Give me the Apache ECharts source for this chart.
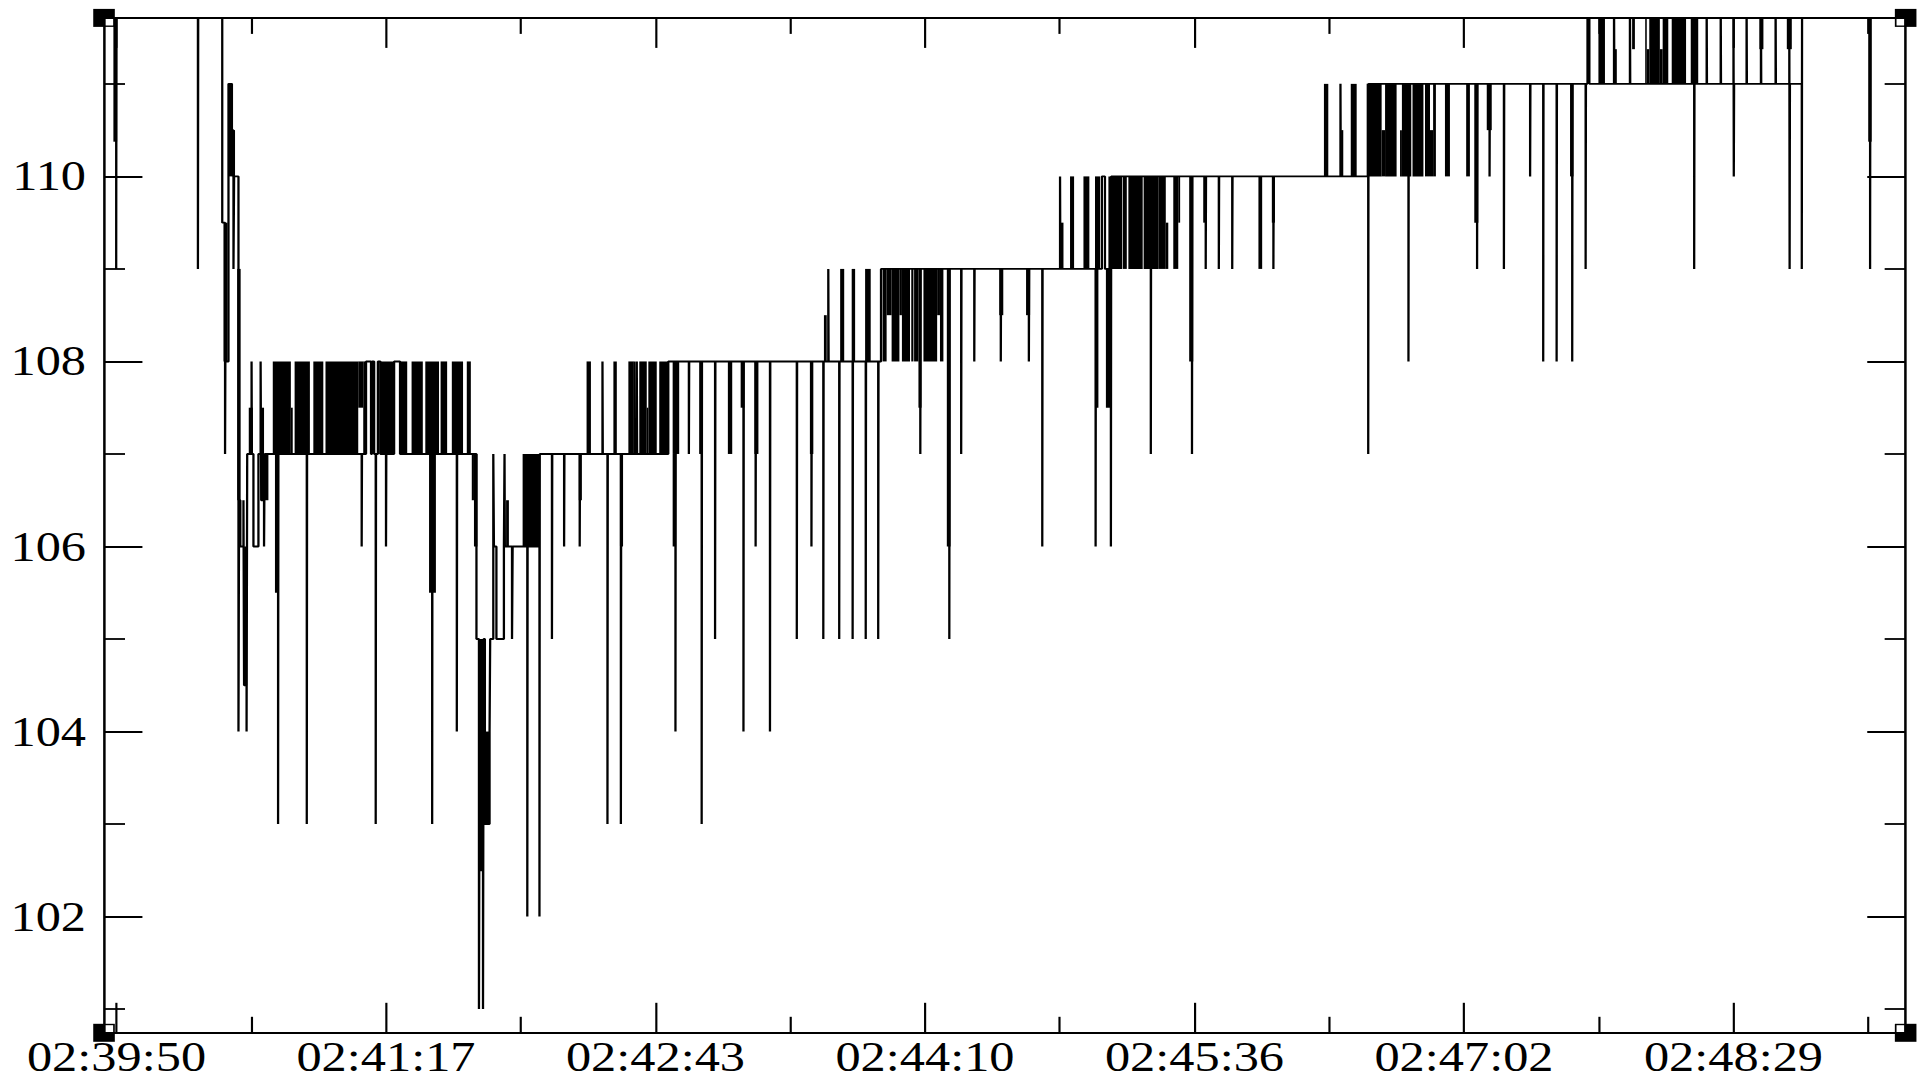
<!DOCTYPE html>
<html>
<head>
<meta charset="utf-8">
<script src="https://cdn.jsdelivr.net/npm/echarts@6/dist/echarts.min.js"></script>
<style>
  html, body { margin: 0; padding: 0; background: #fff; overflow: hidden; }
  /* the plot is laid out on a narrower page and widened, like the original graph export */
  #chart { width: 1606px; height: 1080px; transform: scaleX(1.19988); transform-origin: 0 0; }
</style>
</head>
<body>
<div id="chart"></div>
<script>
// ---- time axis: seconds after 02:39:00 ----
const tickLabels = ['02:39:50', '02:41:17', '02:42:43', '02:44:10', '02:45:36', '02:47:02', '02:48:29'];
const majorTimeTicks = [50.4, 136.8, 223.2, 309.6, 396.0, 482.4, 568.8];
const minorTimeTicks = [93.6, 180.0, 266.4, 352.8, 439.2, 525.6, 612.0];
const majorPriceTicks = [102, 104, 106, 108, 110];
const minorPriceTicks = [101, 103, 105, 107, 109, 111];

// ---- trade prices [seconds, price], held until the next trade ----
const pathOpening = [[46.4,112],[50.3,109],[50.4,112],[76.5,109],[76.6,112],[84.3,109.5],[85.2,107],[85.3,108],[86.3,111],[87.4,110.5],[87.9,109],[88.1,110],[89.5,104],[89.7,106.5],[90.1,106],[91.1,106.5],[91.3,104.5],[92.1,104],[92.3,107],[93.7,108],[93.8,107],[94.3,106],[95.9,107],[96.6,108],[96.8,106.5],[97.7,106],[97.9,107]];
const pathAt107 = [[102.2,103],[102.3,107],[111.4,103],[111.5,107],[129.0,106],[129.1,107],[130.4,108],[132.0,107],[132.3,108],[133.0,107],[133.5,103],[133.6,107],[134.2,108],[135.0,107],[136.8,106],[136.9,107],[139.4,108],[141.3,107],[151.6,103],[151.7,107],[159.5,104],[159.6,107]];
const pathDip = [[165.8,105],[166.6,101],[166.7,102.5],[167.9,101],[168.1,105],[168.5,103],[170.0,104],[170.2,105],[171.2,107],[171.4,106],[172.2,105],[174.6,106],[174.8,107],[174.9,106],[177.2,105],[177.4,106],[182.1,102],[182.2,106],[186.0,102],[186.1,107]];
const pathRecovery = [[190.0,105],[190.1,107],[193.9,106],[194.0,107],[198.9,106],[199.0,107],[206.2,108],[206.3,107],[207.8,103],[207.9,107],[212.1,103],[212.2,107],[216.4,108],[216.5,107],[217.2,108],[217.3,107],[227.3,108],[229.6,104],[229.7,108],
  [233.9,107],[234.0,108],[238.0,103],[238.1,108],[242.3,105],[242.4,108],[251.4,104],[251.5,108],[255.3,106],[255.4,108],[259.9,104],[260.0,108],[268.5,105],[268.6,108],[273.2,106],[273.3,108],[277.0,105],[277.1,108],[278.6,109],[278.7,108],[282.1,105],[282.2,108],[286.4,105],[286.5,108],[290.6,105],[290.7,108],[294.6,105],[294.7,108],[295.5,109]];
const pathClimb = [[308.1,107],[308.2,109],[317.4,105],[317.5,109],[321.2,107],[321.3,109],[325.4,108],[325.5,109],[333.9,108],[334.0,109],[342.9,108],[343.0,109],[347.2,106],[347.3,109],[352.9,110],[353.0,109],[364.3,106],[364.4,109],[366.3,110],[367.3,109],[369.2,106],[369.3,110],
  [382.0,107],[382.1,110],[395.2,107],[395.3,110],[399.6,109],[399.7,110],[403.8,109],[403.9,110],[408.1,109],[408.2,110],[421.3,109],[421.4,110],[442.8,111],[442.9,110],[451.7,107],[451.8,111]];
const pathTop = [[464.6,108],[464.7,111],[486.6,109],[486.7,111],[490.6,110],[490.7,111],[495.2,109],[495.3,111],[503.6,110],[503.7,111],[507.8,108],[507.9,111],[512.1,108],[512.2,111],[517.1,108],[517.2,111],[521.4,109],[521.5,111],[522.0,112],[522.6,111],[530.5,112],[530.6,111],[535.6,112],[535.7,111],[556.2,109],[556.3,111],[560.2,112],[560.3,111],[564.7,112],[564.8,111],[568.8,112],[568.9,110],[569.0,111],[573.0,112],[573.1,111],[577.6,112],[577.7,111],[582.3,112],[582.4,111],[586.7,112],[586.8,109],[586.9,111],[590.7,109],[590.8,112],[612.6,109],[612.7,112],[624.0,112]];

// ---- bursts of rapid back-and-forth trading [fromSec, toSec, low, high] ----
const burstsOpening = [[49.4,50.6,110.375,112],[84.7,86.0,108,109.5],[86.3,87.6,110,111],[87.4,88.4,110,110.5],[89.1,90.2,106.5,109],[91.3,92.3,104.5,106],[92.8,94.1,107,107.5],[96.6,97.7,106.5,107.5],[97.7,99.1,106.5,107]];
const bursts107 = [[100.5,106.3,107,108],[106.3,106.9,107,107.5],[107.5,112.4,107,108],[113.5,116.7,107,108],[117.4,127.9,107,108],[127.9,129.5,107.5,108],[129.5,130.1,107,108],[134.7,139.4,107,108],[141.3,143.6,107,108],[145.0,148.6,107,108],[149.4,153.8,107,108],[154.3,156.4,107,108],[157.9,161.5,107,108],[162.7,164.0,107,108],[101.2,102.3,105.5,107],[150.6,152.8,105.5,107]];
const burstsDip = [[164.3,165.0,106.5,107],[165.0,166.1,106,107],[166.4,168.0,102.5,105],[168.5,170.0,103,104],[175.3,176.2,106,106.5],[180.6,186.0,106,107]];
const burstsRecovery = [[198.6,199.6,106.5,107],[201.1,202.5,107,108],[209.7,210.8,107,108],[211.8,212.8,106,107],[214.5,216.1,107,108],[218.0,220.4,107,108],[220.4,220.9,107,107.5],[220.9,223.6,107,108],[224.4,227.3,107,108],[228.7,230.8,107,108],[228.7,229.8,106,107],
  [237.2,238.3,107,108],[246.4,247.8,107,108],[250.5,251.7,107.5,108],[254.9,256.2,107,108],[272.7,273.8,107,108],[277.2,278.1,108,108.5],[282.4,283.7,108,109],[286.1,287.2,108,109],[290.4,292.2,108,109]];
const bursts108 = [[296.0,297.3,108,109],[297.3,298.9,108.5,109],[298.9,301.4,108,109],[301.4,302.2,108.5,109],[302.2,304.8,108,109],[305.2,305.9,108,109],[306.1,307.5,108,109],[307.5,308.5,107.5,109],[309.1,313.5,108,109],[313.5,314.4,108.5,109],[314.4,315.5,108,109],[316.6,317.8,106,109]];
const bursts109 = [[333.4,334.7,108.5,109],[342.0,343.3,108.5,109],[353.2,354.0,109,109.5],[356.1,357.4,109,110],[360.4,362.3,109,110],[364.1,365.7,109,110],[364.1,365.2,107.5,109],[367.6,369.0,107.5,109],[368.4,372.8,109,110],[373.0,374.3,109,110],[374.8,379.4,109,110],[379.7,384.4,109,110],[384.4,386.8,109,110],[386.8,387.6,109,109.5],[389.2,390.8,109,110],[390.8,391.4,109.5,110]];
const bursts110 = [[394.3,395.6,108,110],[398.8,399.9,109.5,110],[416.5,417.7,109,110],[420.8,421.8,109.5,110],[437.5,438.9,110,111],[443.0,443.7,110,110.5],[446.1,448.0,110,111],[451.2,456.0,110,111],[456.0,457.1,110,110.5],[457.1,460.8,110,111],[461.9,462.5,110,110.5],[462.5,465.5,110,111],[465.9,469.4,110,111],[469.9,471.5,110,111],[471.5,472.5,110,110.5],[472.5,473.4,110,111]];
const bursts111 = [[476.3,477.9,110,111],[483.1,484.3,110,111],[485.7,487.0,109.5,111],[489.7,491.3,110.5,111],[516.4,517.5,110,111],[525.5,527.6,111,112],[530.3,531.4,111,111.375],[536.3,537.2,111.375,112],[540.5,541.0,111,112],[541.0,541.8,111,111.375],[541.8,545.2,111,112],[545.2,546.1,111,111.375],[546.1,547.9,111,112],[549.0,553.6,111,112],[555.1,557.5,111,112],[577.1,578.4,111.375,112],[585.9,587.5,111.375,112],[612.0,613.1,110.375,112]];

const pricePath = [].concat(pathOpening, pathAt107, pathDip, pathRecovery, pathClimb, pathTop);
const bursts = [].concat(burstsOpening, bursts107, burstsDip, burstsRecovery, bursts108, bursts109, bursts110, bursts111);

// ---- layout ----
const TIME_MIN = 46.4, TIME_MAX = 624.0;
const PRICE_MIN = 100.744, PRICE_MAX = 111.713;
const GRID = { left: 86.7, right: 17.8, top: 17.9, bottom: 47.2 };
const PAGE_W = 1606, PAGE_H = 1080;
const INK = '#000';
const FONT = 'Liberation Serif';

function timeLabel(v) {
  const i = majorTimeTicks.findIndex(m => Math.abs(m - v) < 0.01);
  return i >= 0 ? tickLabels[i] : '';
}

function xAxisDef(position, ticks, len, labelled) {
  return {
    type: 'value', position, min: TIME_MIN, max: TIME_MAX, z: 12,
    splitLine: { show: false },
    axisLine: { show: true, onZero: false, lineStyle: { color: INK, width: 1.9 } },
    axisTick: { show: true, inside: true, length: len, customValues: ticks, lineStyle: { color: INK, width: 1.8 } },
    axisLabel: labelled
      ? { show: true, customValues: ticks, formatter: timeLabel, color: INK, fontFamily: FONT, fontSize: 42, lineHeight: 42, margin: 3 }
      : { show: false }
  };
}
function yAxisDef(position, ticks, len, labelled) {
  return {
    type: 'value', position, min: PRICE_MIN, max: PRICE_MAX, z: 12,
    splitLine: { show: false },
    axisLine: { show: true, onZero: false, lineStyle: { color: INK, width: 1.7 } },
    axisTick: { show: true, inside: true, length: len, customValues: ticks, lineStyle: { color: INK, width: 1.8 } },
    axisLabel: labelled
      ? { show: true, customValues: ticks, formatter: v => String(v), color: INK, fontFamily: FONT, fontSize: 42, margin: 15 }
      : { show: false }
  };
}

function renderBurst(params, api) {
  const a = api.coord([api.value(0), api.value(3)]);
  const b = api.coord([api.value(1), api.value(2)]);
  const cs = params.coordSys;
  const x0 = Math.max(a[0], cs.x), x1 = Math.min(b[0], cs.x + cs.width);
  const y0 = Math.max(a[1], cs.y), y1 = Math.min(b[1], cs.y + cs.height);
  if (x1 <= x0 || y1 <= y0) return null;
  return { type: 'rect', shape: { x: x0, y: y0, width: x1 - x0, height: y1 - y0 }, style: { fill: INK } };
}

// focus markers at the four frame corners
const L = GRID.left, R = PAGE_W - GRID.right, T = GRID.top, B = PAGE_H - GRID.bottom;
const cornerMarks = [[L, T, 1, 1], [R, T, -1, 1], [L, B, 1, -1], [R, B, -1, -1]].map(([cx, cy, dx, dy]) => ({
  type: 'group', z: 10,
  children: [
    { type: 'rect', z: 10, shape: { x: cx - 9, y: cy - 9, width: 18, height: 18 }, style: { fill: INK } },
    { type: 'rect', z: 11, shape: { x: dx > 0 ? cx + 0.8 : cx - 7.6, y: dy > 0 ? cy + 0.8 : cy - 7.6, width: 6.8, height: 6.8 }, style: { fill: '#fff' } }
  ]
}));

const chart = echarts.init(document.getElementById('chart'), null, { renderer: 'svg', width: PAGE_W, height: PAGE_H });
chart.setOption({
  animation: false,
  backgroundColor: '#fff',
  grid: Object.assign({ containLabel: false, outerBoundsMode: 'none' }, GRID),
  xAxis: [
    xAxisDef('bottom', majorTimeTicks, 30, true),
    xAxisDef('bottom', minorTimeTicks, 16, false),
    xAxisDef('top', majorTimeTicks, 30, false),
    xAxisDef('top', minorTimeTicks, 16, false)
  ],
  yAxis: [
    yAxisDef('left', majorPriceTicks, 32, true),
    yAxisDef('left', minorPriceTicks, 17.5, false),
    yAxisDef('right', majorPriceTicks, 32, false),
    yAxisDef('right', minorPriceTicks, 17.5, false)
  ],
  graphic: cornerMarks,
  series: [
    {
      type: 'custom', name: 'bursts', xAxisIndex: 0, yAxisIndex: 0, z: 2,
      data: bursts, encode: { x: [0, 1], y: [2, 3] },
      renderItem: renderBurst, silent: true
    },
    {
      type: 'line', name: 'price', xAxisIndex: 0, yAxisIndex: 0, z: 3,
      data: pricePath, step: 'end', symbol: 'none', showSymbol: false,
      clip: true, silent: true,
      lineStyle: { color: INK, width: 1.9 }
    }
  ]
});
</script>
</body>
</html>
